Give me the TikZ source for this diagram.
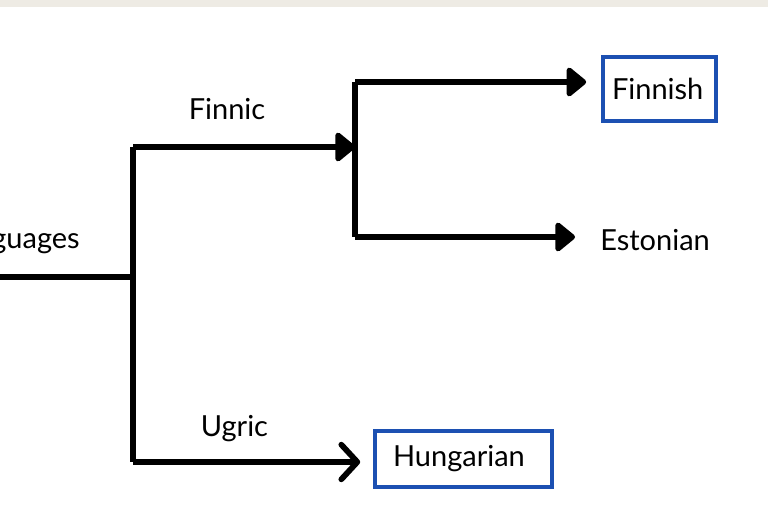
\documentclass[tikz,border=0pt]{standalone}
\usepackage{fontspec}
\setmainfont{Lato}
\usetikzlibrary{arrows.meta}
\definecolor{bar}{HTML}{EEEBE4}
\definecolor{boxblue}{HTML}{1C50B2}
\tikzset{
  px/.style={x=0.75pt,y=-0.75pt},
  conn/.style={line width=4.3pt,line join=miter,line cap=butt},
  tri/.style={conn,-{Triangle[length=16pt,width=25pt,round]}},
  barb/.style={conn,-{Straight Barb[length=12pt,width=26pt,round]}},
  lbl/.style={font=\fontsize{21.75}{26}\selectfont,inner sep=0pt},
  leaf/.style={lbl,draw=boxblue,line width=2.7pt,align=left}
}
\begin{document}
\begin{tikzpicture}[px]
\useasboundingbox (0,0) rectangle (768,505);
\fill[bar] (0,0) rectangle (768,7.5);
% nodes
\node[lbl,anchor=base east] (lang) at (80,249) {Languages};
\node[lbl,anchor=base] (finnic) at (227,120) {Finnic};
\node[lbl,anchor=base] (ugric) at (234.5,437) {Ugric};
\node[leaf,inner xsep=6.75pt,text width=71.25pt,minimum height=48pt] (fin) at (659.5,89) {Finnish};
\node[lbl,anchor=base west] (est) at (600,251) {Estonian};
\node[leaf,inner xsep=13.5pt,text width=105.75pt,minimum height=42pt] (hun) at (463.5,459) {Hungarian};
% junctions
\coordinate (start) at (-3,277);
\coordinate (j1) at (133,277);
\coordinate (j1top) at (133,147);
\coordinate (j1bot) at (133,462);
\coordinate (j2) at (355,147);
\coordinate (j2top) at (355,82);
\coordinate (j2bot) at (355,237);
% connectors
\draw[conn] (start) -- (j1);
\draw[conn] (j1bot) -- (j1top);
\draw[tri] (j1top) -- (j2);
\draw[conn] (j2top) -- (j2bot);
\draw[tri,shorten >=11.25pt] (j2top) -- (j2top -| fin.west);
\draw[tri,shorten >=18.75pt] (j2bot) -- (j2bot -| est.west);
\draw[barb,shorten >=9.75pt] (j1bot) -- (j1bot -| hun.west);
\end{tikzpicture}
\end{document}
